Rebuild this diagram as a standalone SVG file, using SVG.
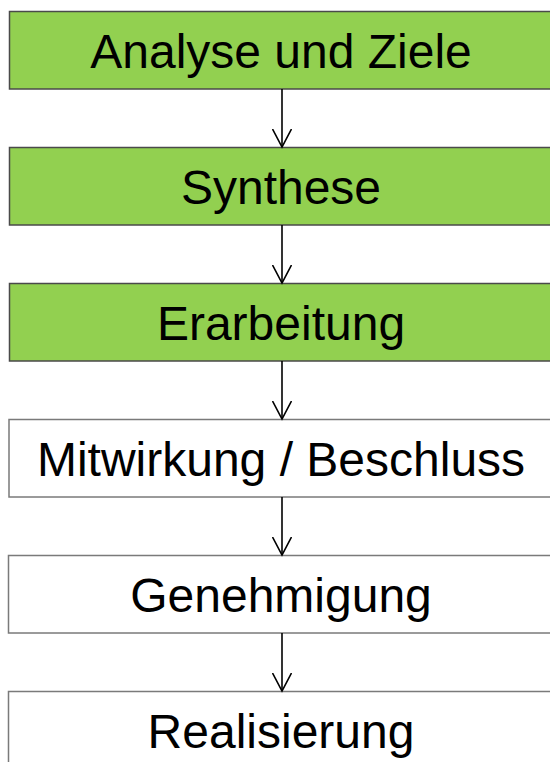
<svg xmlns="http://www.w3.org/2000/svg" width="550" height="762" viewBox="0 0 550 762">
<style>
.g{fill:#92D050;stroke:#4a4a4a;stroke-width:1.5}
.w{fill:#ffffff;stroke:#7a7a7a;stroke-width:1.5}
.t{font-family:"Liberation Sans",Arial,sans-serif;font-size:48px;fill:#000;text-anchor:middle}
.c line{stroke:#000;stroke-width:1.6}
</style>
<defs>
<marker id="ah" viewBox="0 0 20 20" refX="18" refY="10" markerWidth="20" markerHeight="20" markerUnits="userSpaceOnUse" orient="auto">
<path d="M0,0.5 L18,10 L0,19.5" fill="none" stroke="#000" stroke-width="1.6"/>
</marker>
</defs>
<g id="n1"><rect class="g" x="9.5" y="11.5" width="560" height="77.5"/><text class="t" x="281" y="68">Analyse und Ziele</text></g>
<g id="n2"><rect class="g" x="9.5" y="147.5" width="560" height="77.5"/><text class="t" x="281" y="204">Synthese</text></g>
<g id="n3"><rect class="g" x="9.5" y="283.5" width="560" height="77.5"/><text class="t" x="281" y="340">Erarbeitung</text></g>
<g id="n4"><rect class="w" x="9" y="419.5" width="560" height="77.5"/><text class="t" x="281" y="476">Mitwirkung / Beschluss</text></g>
<g id="n5"><rect class="w" x="8.5" y="555.5" width="560" height="77.5"/><text class="t" x="281" y="612">Genehmigung</text></g>
<g id="n6"><rect class="w" x="8.5" y="691.5" width="560" height="100"/><text class="t" x="281" y="748">Realisierung</text></g>
<g id="connectors" class="c">
<line x1="282" y1="89" x2="282" y2="147" marker-end="url(#ah)"/>
<line x1="282" y1="225" x2="282" y2="283" marker-end="url(#ah)"/>
<line x1="282" y1="361" x2="282" y2="419" marker-end="url(#ah)"/>
<line x1="282" y1="497" x2="282" y2="555" marker-end="url(#ah)"/>
<line x1="282" y1="633" x2="282" y2="691" marker-end="url(#ah)"/>
</g>
</svg>
